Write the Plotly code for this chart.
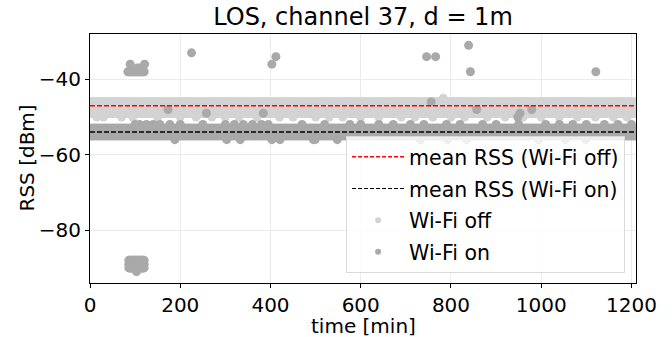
import plotly.graph_objects as go

# ---------------- data ----------------
title_text = "LOS, channel 37, d = 1m"
x_label = "time [min]"
y_label = "RSS [dBm]"
x_ticks = [0, 200, 400, 600, 800, 1000, 1200]
y_ticks = [-80, -60, -40]

# recording time grid (minutes), dense sampling over the whole run
time_start = 0
time_end = 1210
time_step = 2

# RSS levels that are present (almost) all the time
off_levels = [-46, -47, -48, -49]          # Wi-Fi off
on_levels = [-53, -54, -55]                # Wi-Fi on

# occasional samples just outside the main bands
off_low_t = [15, 30, 70, 95, 150, 200, 235, 270, 300, 330, 370, 420, 450, 500, 530,
             560, 600, 640, 690, 720, 760, 800, 830, 880, 920, 960, 1000, 1040,
             1080, 1120, 1160, 1190]
off_low_v = -50
off_extra_t = [783]
off_extra_v = [-45]

on_high_t = [100, 110, 125, 140, 155, 177, 200, 250, 300, 320, 340, 360, 380, 395,
             470, 520, 576, 600, 640, 672, 710, 740, 790, 820, 870, 900, 950, 1010,
             1040, 1070, 1100, 1140, 1170, 1200]
on_high_v = -52
on_low_t = [188, 303, 333, 403, 421, 495, 499, 548, 732, 792, 835, 994, 1053, 1098]
on_low_v = -56

# Wi-Fi on: burst around t = 85..120 min
burst_t = [84, 86, 88, 90, 92, 94, 96, 98, 100, 102, 104, 106, 108, 110, 112, 114,
           116, 118, 120]
burst_high_v = -38
burst_high_extra_t = [89, 105, 110, 121]
burst_high_extra_v = [-36, -37, -37, -36]
burst_low_levels = [-88, -89, -90]
burst_low_extra_t = [103]
burst_low_extra_v = [-91]

# Wi-Fi on: isolated samples
on_out_t = [225, 403, 412, 746, 766, 839, 843, 1121, 173, 258, 384, 756, 857, 948, 953, 979]
on_out_v = [-33, -36, -34, -34, -34, -31, -38, -38, -48, -49, -49, -46, -48, -50, -49, -48]

mean_off = -47.0
mean_on = -54.0

# ---------------- assemble series ----------------
grid = list(range(time_start, time_end + 1, time_step))

off_x, off_y = [], []
for lv in off_levels:
    off_x += grid
    off_y += [lv] * len(grid)
off_x += off_low_t
off_y += [off_low_v] * len(off_low_t)
off_x += off_extra_t
off_y += off_extra_v

on_x, on_y = [], []
for lv in on_levels:
    on_x += grid
    on_y += [lv] * len(grid)
on_x += on_high_t
on_y += [on_high_v] * len(on_high_t)
on_x += on_low_t
on_y += [on_low_v] * len(on_low_t)
on_x += burst_t
on_y += [burst_high_v] * len(burst_t)
on_x += burst_high_extra_t
on_y += burst_high_extra_v
for lv in burst_low_levels:
    on_x += burst_t[1:]
    on_y += [lv] * (len(burst_t) - 1)
on_x += burst_low_extra_t
on_y += burst_low_extra_v
on_x += on_out_t
on_y += on_out_v

FONT = "DejaVu Sans"
C_OFF = "#d3d3d3"
C_ON = "#a9a9a9"
DASH = "5px,2px"

fig = go.Figure()
# data marks
fig.add_trace(go.Scatter(x=off_x, y=off_y, mode="markers", name="Wi-Fi off",
                         marker=dict(color=C_OFF, size=9, line=dict(width=0)),
                         showlegend=False))
fig.add_trace(go.Scatter(x=on_x, y=on_y, mode="markers", name="Wi-Fi on",
                         marker=dict(color=C_ON, size=9, line=dict(width=0)),
                         showlegend=False))
fig.add_trace(go.Scatter(x=[time_start, time_end], y=[mean_off, mean_off], mode="lines",
                         name="mean RSS (Wi-Fi off)", showlegend=False,
                         line=dict(color="red", width=1.5, dash=DASH)))
fig.add_trace(go.Scatter(x=[time_start, time_end], y=[mean_on, mean_on], mode="lines",
                         name="mean RSS (Wi-Fi on)", showlegend=False,
                         line=dict(color="black", width=1.5, dash=DASH)))

# legend entries (no data, only keys)
fig.add_trace(go.Scatter(x=[None], y=[None], mode="lines", name="mean RSS (Wi-Fi off)",
                         line=dict(color="red", width=1.5, dash="4px,2px"),
                         legendgroup="a", legendrank=1))
fig.add_trace(go.Scatter(x=[None], y=[None], mode="lines", name="mean RSS (Wi-Fi on)",
                         line=dict(color="black", width=1.2, dash="4px,2px"),
                         legendgroup="b", legendrank=2))
fig.add_trace(go.Scatter(x=[None], y=[None], mode="markers", name="Wi-Fi off",
                         marker=dict(color=C_OFF, size=6), legendgroup="c", legendrank=3))
fig.add_trace(go.Scatter(x=[None], y=[None], mode="markers", name="Wi-Fi on",
                         marker=dict(color=C_ON, size=6), legendgroup="d", legendrank=4))

axis_common = dict(
    showline=True, mirror=True, linecolor="black", linewidth=1,
    ticks="outside", ticklen=4, tickwidth=1, tickcolor="black",
    showgrid=True, gridcolor="#ebebeb", gridwidth=1, zeroline=False,
    automargin=False,
    tickfont=dict(family=FONT, size=20, color="black"),
)

fig.update_layout(
    width=672, height=337,
    margin=dict(l=90, r=36, t=34, b=54),
    paper_bgcolor="white", plot_bgcolor="white",
    font=dict(family=FONT, size=20, color="black"),
    title=dict(text=title_text, x=0.5, xref="paper", xanchor="center",
               y=1 - 17 / 337, yref="container", yanchor="middle",
               font=dict(family=FONT, size=24, color="black")),
    xaxis=dict(range=[time_start, time_end], tickvals=x_ticks, **axis_common),
    yaxis=dict(range=[-94, -28], tickvals=y_ticks, **axis_common),
    legend=dict(x=0.98, y=0.04, xanchor="right", yanchor="bottom",
                bgcolor="rgba(255,255,255,0.8)", bordercolor="#d9d9d9", borderwidth=1,
                font=dict(family=FONT, size=20.5, color="black"),
                traceorder="grouped", tracegroupgap=2, itemwidth=52),
    showlegend=True,
    annotations=[
        dict(text=x_label, xref="paper", yref="paper", x=0.5, y=-(325.5 - 283) / 249,
             xanchor="center", yanchor="middle", showarrow=False,
             font=dict(family=FONT, size=20, color="black")),
        dict(text=y_label, xref="paper", yref="paper", x=-(90 - 26) / 546, y=0.5,
             xanchor="center", yanchor="middle", showarrow=False, textangle=-90,
             font=dict(family=FONT, size=20, color="black")),
    ],
)

fig.write_html("out.html")
